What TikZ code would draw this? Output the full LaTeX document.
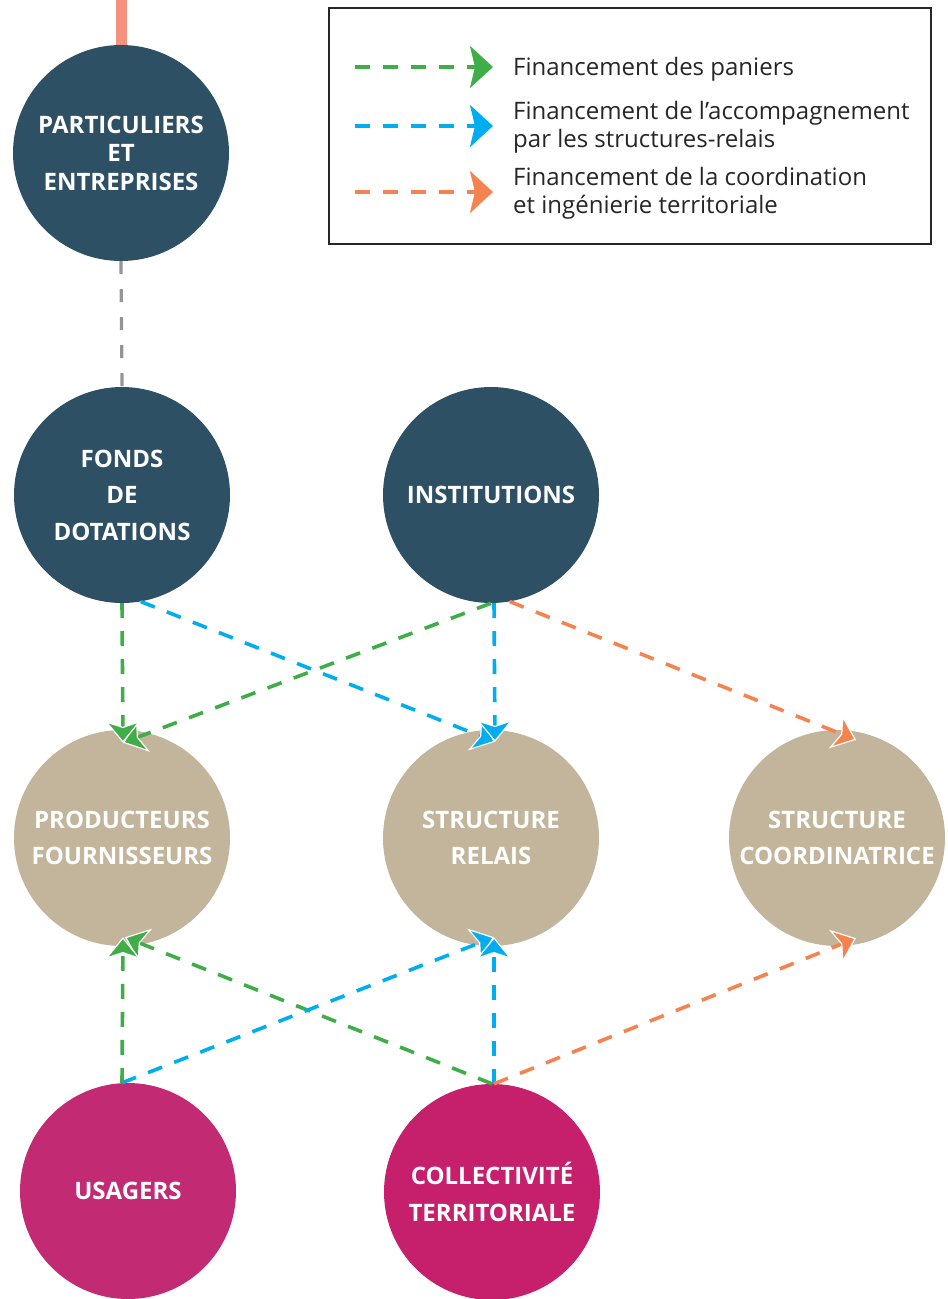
\documentclass[tikz,border=0pt]{standalone}
\usepackage{fontspec}
\setmainfont{Open Sans}
\usetikzlibrary{arrows.meta,calc,backgrounds}
\definecolor{cteal}{HTML}{2E5064}
\definecolor{cbeige}{HTML}{C2B59B}
\definecolor{cmag}{HTML}{C22B73}
\definecolor{cmagb}{HTML}{C6206D}
\definecolor{csalmon}{HTML}{F4917F}
\definecolor{cgrey}{HTML}{939598}
\definecolor{cg}{HTML}{3FAE49}
\definecolor{cb}{HTML}{00AEEF}
\definecolor{co}{HTML}{F58350}
\tikzset{
  circ/.style={circle,minimum size=216pt,inner sep=0pt,text=white,align=center,
    font=\bfseries\fontsize{24}{36.5}\selectfont},
  dk/.style={circ,fill=cteal},
  bg/.style={circ,fill=cbeige},
  mg/.style={circ,fill=cmag},
  mgb/.style={circ,fill=cmagb},
  flow/.style={line width=3.6pt,dash pattern=on 15pt off 13pt},
  hg/.style={flow,draw=cg,-{Stealth[length=22pt,width=36pt,inset=6pt,color=white,fill=cg,line width=1.2pt]}},
  hb/.style={flow,draw=cb,-{Stealth[length=22pt,width=36pt,inset=6pt,color=white,fill=cb,line width=1.2pt]}},
  ho/.style={flow,draw=co,-{Stealth[length=22pt,width=36pt,inset=6pt,color=white,fill=co,line width=1.2pt]}},
  lg/.style={flow,draw=cg,-{Stealth[length=23pt,width=42pt,inset=5pt,fill=cg,color=cg]}},
  lb/.style={flow,draw=cb,-{Stealth[length=23pt,width=42pt,inset=5pt,fill=cb,color=cb]}},
  lo/.style={flow,draw=co,-{Stealth[length=23pt,width=42pt,inset=5pt,fill=co,color=co]}},
  ltext/.style={anchor=west,inner sep=0pt,align=left,text=black!85,font=\fontsize{24}{28}\selectfont},
}
\begin{document}
\begin{tikzpicture}[x=1pt,y=-1pt]
\useasboundingbox (0,0) rectangle (948,1299);
% circles
\node[dk,font=\bfseries\fontsize{24}{28.5}\selectfont] (part) at (121,153) {PARTICULIERS\\ET\\ENTREPRISES};
\node[dk] (fonds) at (122,495) {FONDS\\DE\\DOTATIONS};
\node[dk] (inst) at (491,495) {INSTITUTIONS};
\node[bg] (prod) at (122,838) {PRODUCTEURS\\FOURNISSEURS};
\node[bg] (relais) at (491,838) {STRUCTURE\\RELAIS};
\node[bg] (coord) at (837,838) {STRUCTURE\\COORDINATRICE};
\node[mg] (usag) at (128,1191) {USAGERS};
\node[mgb] (coll) at (492,1192) {COLLECTIVITÉ\\TERRITORIALE};
% top links
\coordinate (topin) at (121,0);
\begin{scope}[on background layer]
\draw[csalmon,line width=11pt] (topin) -- (part.north);
\end{scope}
\draw[cgrey,line width=3.2pt,dash pattern=on 13pt off 15pt] (part.south) -- (fonds.north);
% upper arrows
\draw[hb] (fonds.-80) -- ([xshift=4pt,yshift=-12pt]relais.north);
\draw[hg] (inst.south) -- ([xshift=1pt,yshift=-13pt]prod.north);
\draw[ho] (inst.-80) -- ([xshift=19pt,yshift=-10pt]coord.north);
\draw[hg] (fonds.south) -- ([xshift=1pt,yshift=-13pt]prod.north);
\draw[hb] ([xshift=3pt]inst.south) -- ([xshift=4pt,yshift=-12pt]relais.north);
% lower arrows
\draw[hg] (coll.north) -- ([xshift=3pt,yshift=9pt]prod.south);
\draw[hb] (usag.north -| prod.south) -- ([xshift=3pt,yshift=9pt]relais.south);
\draw[hg] (usag.north -| prod.south) -- ([xshift=1pt,yshift=9pt]prod.south);
\draw[hb] ([xshift=2pt]coll.north) -- ([xshift=3pt,yshift=9pt]relais.south);
\draw[ho] ([xshift=2pt]coll.north) -- ([xshift=19pt,yshift=8pt]coord.south);
% legend
\node[draw=black!85,line width=2.5pt,minimum width=602pt,minimum height=236pt,inner sep=0pt] (leg) at (630,126) {};
\coordinate (l1a) at (355,67); \coordinate (l1b) at (493,67);
\coordinate (l2a) at (355,126); \coordinate (l2b) at (493,126);
\coordinate (l3a) at (355,192); \coordinate (l3b) at (493,192);
\draw[lg] (l1a) -- (l1b);
\draw[lb] (l2a) -- (l2b);
\draw[lo] (l3a) -- (l3b);
\node[ltext] (t1) at (513,69) {Financement des paniers};
\node[ltext] (t2) at (513,127) {Financement de l’accompagnement\\par les structures-relais};
\node[ltext] (t3) at (513,193) {Financement de la coordination\\et ingénierie territoriale};
\end{tikzpicture}
\end{document}
